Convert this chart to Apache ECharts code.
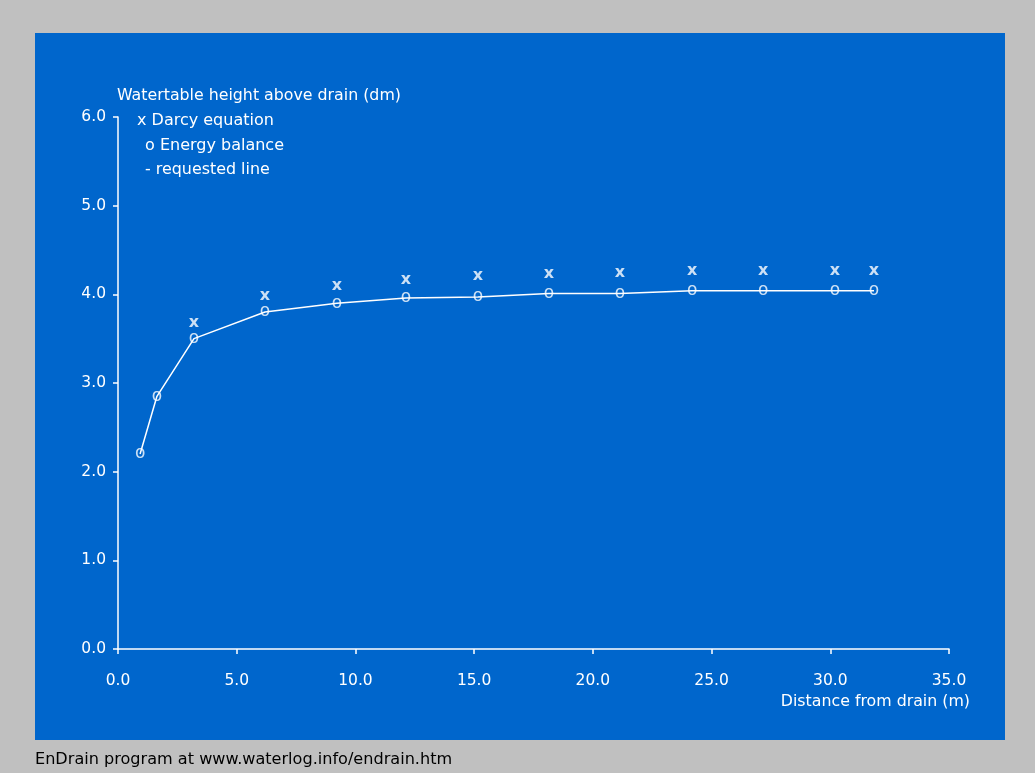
<!DOCTYPE html>
<html><head><meta charset="utf-8">
<script src="https://cdn.jsdelivr.net/npm/echarts@6/dist/echarts.min.js"></script>
<style>html,body{margin:0;padding:0;background:#c0c0c0;}#c{width:1035px;height:773px;}</style>
</head><body><div id="c"></div>
<script>
const distance = [0.93, 1.64, 3.2, 6.19, 9.22, 12.13, 15.16, 18.15, 21.14, 24.18, 27.17, 30.2, 31.84];
const energyBalance = [2.20, 2.85, 3.50, 3.80, 3.90, 3.96, 3.97, 4.01, 4.01, 4.04, 4.04, 4.04, 4.04];
const darcy = [null, null, 3.68, 3.98, 4.10, 4.16, 4.21, 4.23, 4.24, 4.26, 4.27, 4.27, 4.27];
const yTitle = 'Watertable height above drain (dm)';
const xTitle = 'Distance from drain (m)';
const legendLines = ['x Darcy equation', 'o Energy balance', '- requested line'];
const footer = 'EnDrain program at www.waterlog.info/endrain.htm';

const pair = a => distance.map((d, i) => [d, a[i]]).filter(p => p[1] != null);
const font = '"DejaVu Sans", Verdana, sans-serif';
const white = '#ffffff';
const txt = (x, y, text, size, fill, align) => ({
  type: 'text', x: x, y: y,
  style: {text: text, fill: fill || white, font: size + 'px ' + font, textAlign: align || 'left', textVerticalAlign: 'middle'}
});

const chart = echarts.init(document.getElementById('c'));
chart.setOption({
  backgroundColor: '#c0c0c0',
  animation: false,
  graphic: [
    {type: 'rect', z: -10, shape: {x: 35, y: 33, width: 970, height: 707}, style: {fill: '#0066cc'}},
    txt(117, 96, yTitle, 15.8),
    txt(137, 121, legendLines[0], 16),
    txt(145, 146, legendLines[1], 16),
    txt(145, 170, legendLines[2], 15.9),
    txt(970, 702, xTitle, 15.8, white, 'right'),
    txt(35, 760, footer, 16.1, '#000000')
  ],
  grid: {left: 118, right: 86, top: 117, bottom: 124},
  xAxis: {
    type: 'value', min: 0, max: 35, interval: 5,
    axisLine: {lineStyle: {color: white, width: 1.5}},
    axisTick: {show: true, length: 5, lineStyle: {color: white, width: 1.5}},
    axisLabel: {color: white, margin: 24, fontFamily: font, fontSize: 15.5, formatter: v => v.toFixed(1)},
    splitLine: {show: false}
  },
  yAxis: {
    type: 'value', min: 0, max: 6, interval: 1,
    axisLine: {show: true, lineStyle: {color: white, width: 1.5}},
    axisTick: {show: true, length: 5, lineStyle: {color: white, width: 1.5}},
    axisLabel: {color: white, margin: 12, fontFamily: font, fontSize: 15.5, formatter: v => v.toFixed(1)},
    splitLine: {show: false}
  },
  series: [
    {
      name: 'requested line', type: 'line', data: pair(energyBalance), symbol: 'none',
      lineStyle: {color: white, width: 1.5}, z: 3
    },
    {
      name: 'Energy balance', type: 'scatter', data: pair(energyBalance), symbolSize: 1,
      itemStyle: {color: 'rgba(0,0,0,0)'}, z: 2,
      label: {show: true, position: 'inside', formatter: 'o', color: white, fontFamily: font, fontSize: 17}
    },
    {
      name: 'Darcy equation', type: 'scatter', data: pair(darcy), symbolSize: 1,
      itemStyle: {color: 'rgba(0,0,0,0)'}, z: 2,
      label: {show: true, position: 'inside', formatter: 'x', color: white, fontFamily: font, fontSize: 16, fontWeight: 'bold'}
    }
  ]
});
</script></body></html>
